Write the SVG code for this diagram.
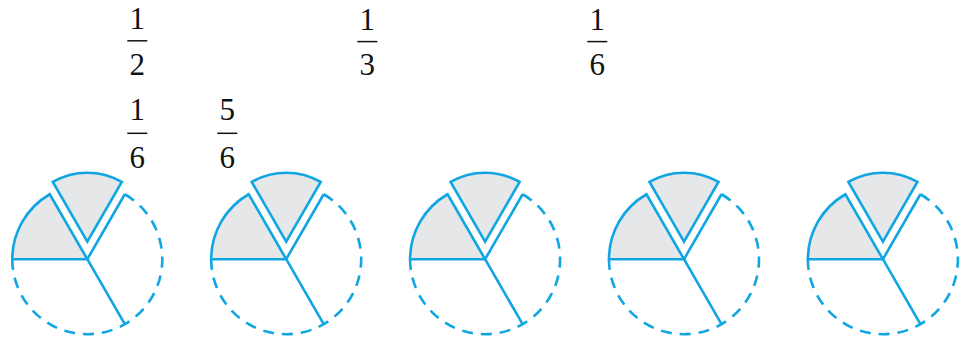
<svg xmlns="http://www.w3.org/2000/svg" xmlns:xlink="http://www.w3.org/1999/xlink" width="967" height="340" viewBox="0 0 967 340">
<style>
.ln{fill:none;stroke:#10a5e3;stroke-width:2.6;stroke-linejoin:miter;stroke-linecap:butt}
.sh{fill:#e6e7e8;stroke:#10a5e3;stroke-width:2.6;stroke-linejoin:miter}
.dash{fill:none;stroke:#10a5e3;stroke-width:2.6;stroke-dasharray:11 7.94}
.num{font-family:"Liberation Serif","Times New Roman",serif;font-size:31px;fill:#111;text-anchor:middle}
.bar{stroke:#111;stroke-width:1.5}
</style>
<defs>
<g id="wheel">
<path class="sh" d="M0 0 L-75 0 A75 75 0 0 1 -37.5 -64.95 Z"/>
<path class="sh" d="M0 -17.5 L-34.5 -77.26 A69 69 0 0 1 34.5 -77.26 Z"/>
<path class="ln" d="M0 0 L37.5 -64.95 M0 0 L37.5 64.95"/>
<path class="dash" d="M37.5 -64.95 A75 75 0 1 1 -75 0"/>
</g>
</defs>
<g id="frac-half">
<text class="num" x="137.3" y="29">1</text>
<line class="bar" x1="127.3" y1="40.8" x2="147.3" y2="40.8"/>
<text class="num" x="137.3" y="74.5">2</text>
</g>
<g id="frac-third">
<text class="num" x="367.3" y="29.5">1</text>
<line class="bar" x1="357.3" y1="41.6" x2="377.3" y2="41.6"/>
<text class="num" x="367.3" y="75">3</text>
</g>
<g id="frac-sixth-top">
<text class="num" x="597.3" y="29.5">1</text>
<line class="bar" x1="587.3" y1="41.6" x2="607.3" y2="41.6"/>
<text class="num" x="597.3" y="75">6</text>
</g>
<g id="frac-sixth">
<text class="num" x="137.3" y="120">1</text>
<line class="bar" x1="127.3" y1="133.3" x2="147.3" y2="133.3"/>
<text class="num" x="137.3" y="167.5">6</text>
</g>
<g id="frac-five-sixths">
<text class="num" x="227.3" y="120">5</text>
<line class="bar" x1="217.3" y1="133.3" x2="237.3" y2="133.3"/>
<text class="num" x="227.3" y="167.5">6</text>
</g>
<g id="circle1"><use xlink:href="#wheel" transform="translate(87.3 259.2)"/></g>
<g id="circle2"><use xlink:href="#wheel" transform="translate(286.2 259.2)"/></g>
<g id="circle3"><use xlink:href="#wheel" transform="translate(485.1 259.2)"/></g>
<g id="circle4"><use xlink:href="#wheel" transform="translate(684 259.2)"/></g>
<g id="circle5"><use xlink:href="#wheel" transform="translate(882.9 259.2)"/></g>
<g id="connectors"></g>
</svg>
